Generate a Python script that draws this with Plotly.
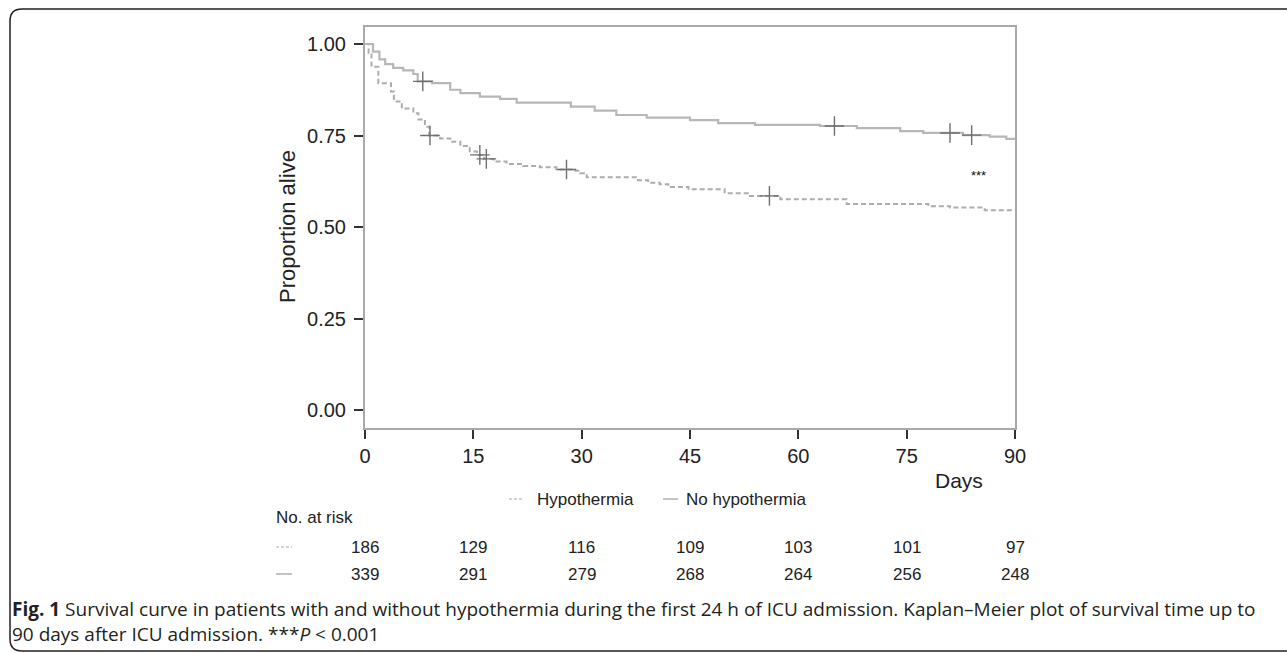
import plotly.graph_objects as go

W, H = 1287, 653

# ---------------- data ----------------
days_no_hypo = [0, 1.1, 2.0, 2.8, 3.9, 5.3, 6.7, 7.3, 9.3, 11.8, 13.2, 15.9, 18.7, 21.0,
                28.5, 31.8, 34.8, 39.0, 45.0, 48.9, 54.0, 63.0, 68.1, 74.1, 77.3, 82.8,
                86.5, 88.8, 90]
surv_no_hypo = [1.0, 0.979, 0.958, 0.945, 0.935, 0.928, 0.918, 0.898, 0.893, 0.875, 0.866,
                0.856, 0.850, 0.840, 0.829, 0.818, 0.806, 0.799, 0.792, 0.784, 0.779, 0.776,
                0.770, 0.762, 0.757, 0.751, 0.747, 0.741, 0.741]
cens_days_no_hypo = [8.0, 65.0, 81.0, 84.0]
cens_surv_no_hypo = [0.898, 0.776, 0.757, 0.751]

days_hypo = [0, 0.5, 0.9, 1.85, 3.6, 4.0, 5.1, 6.7, 7.4, 8.3, 8.9, 10.4, 11.8, 13.2, 14.5,
             15.5, 16.5, 17.8, 19.6, 21.9, 24.2, 26.5, 28.8, 29.8, 30.7, 37.8, 39.2, 40.8,
             42.0, 44.8, 49.8, 53.3, 57.5, 66.7, 78.0, 81.0, 85.8, 90]
surv_hypo = [1.0, 0.975, 0.938, 0.893, 0.870, 0.843, 0.824, 0.811, 0.794, 0.774, 0.750,
             0.742, 0.733, 0.721, 0.706, 0.697, 0.686, 0.679, 0.672, 0.667, 0.663, 0.657,
             0.654, 0.647, 0.636, 0.628, 0.621, 0.617, 0.609, 0.603, 0.592, 0.585, 0.576,
             0.563, 0.557, 0.553, 0.546, 0.546]
cens_days_hypo = [9.0, 15.9, 16.8, 27.9, 56.0]
cens_surv_hypo = [0.750, 0.697, 0.686, 0.657, 0.585]

risk_times = [0, 15, 30, 45, 60, 75, 90]
risk_hypo = [186, 129, 116, 109, 103, 101, 97]
risk_no_hypo = [339, 291, 279, 268, 264, 256, 248]

x_ticks = [0, 15, 30, 45, 60, 75, 90]
y_ticks = [0.0, 0.25, 0.50, 0.75, 1.00]
y_tick_text = ["0.00", "0.25", "0.50", "0.75", "1.00"]

series_names = ["Hypothermia", "No hypothermia"]
caption_line1 = ("<b>Fig. 1</b> Survival curve in patients with and without hypothermia during "
                 "the first 24 h of ICU admission. Kaplan–Meier plot of survival time up to")
caption_line2 = "90 days after ICU admission. ***<i>P</i> &lt; 0.001"

# ---------------- helpers ----------------
def px(x):
    return x / W

def py(y):
    return 1 - y / H

CURVE_SOLID = "#b7b7b7"
CURVE_DASH = "#adadad"
CENSOR = "#6f6f6f"
AXIS = "#a9a9a9"
TXT = "#222222"
FONT = "Liberation Sans, Arial, sans-serif"

# vertical positions (px) of the elements below the plot
Y_DAYS = 480
Y_LEGEND = 499
Y_RISK_TITLE = 517
Y_ROW1 = 547
Y_ROW2 = 574
Y_CAP1 = 609
Y_CAP2 = 634

fig = go.Figure()

fig.add_trace(go.Scatter(
    x=days_hypo, y=surv_hypo, mode="lines", name=series_names[0],
    line=dict(shape="hv", color=CURVE_DASH, width=2, dash="5px,3px"),
    showlegend=False, hoverinfo="skip"))
fig.add_trace(go.Scatter(
    x=days_no_hypo, y=surv_no_hypo, mode="lines", name=series_names[1],
    line=dict(shape="hv", color=CURVE_SOLID, width=2.2),
    showlegend=False, hoverinfo="skip"))
fig.add_trace(go.Scatter(
    x=cens_days_hypo, y=cens_surv_hypo, mode="markers", name="censored (hypothermia)",
    marker=dict(symbol="cross-thin", size=14, line=dict(color=CENSOR, width=1.4)),
    showlegend=False, hoverinfo="skip"))
fig.add_trace(go.Scatter(
    x=cens_days_no_hypo, y=cens_surv_no_hypo, mode="markers", name="censored (no hypothermia)",
    marker=dict(symbol="cross-thin", size=14, line=dict(color=CENSOR, width=1.4)),
    showlegend=False, hoverinfo="skip"))

# plot box: x 365..1015 px, y 27..428 px ; y=1 at 44 px, y=0 at 410 px
y_per_px = 1 / 366.0
y_lo = -(428 - 410) * y_per_px
y_hi = 1 + (44 - 27) * y_per_px

fig.update_layout(
    width=W, height=H,
    margin=dict(l=0, r=0, t=0, b=0, pad=0, autoexpand=False),
    paper_bgcolor="white", plot_bgcolor="white",
    font=dict(family=FONT, color=TXT),
    xaxis=dict(domain=[px(365), px(1015)], range=[0, 90], tickvals=x_ticks,
               ticks="outside", ticklen=9, tickwidth=2, tickcolor="#333333",
               showline=True, linecolor=AXIS, linewidth=2, mirror=True,
               showgrid=False, zeroline=False, automargin=False,
               tickfont=dict(size=20, family=FONT, color=TXT)),
    yaxis=dict(domain=[py(428), py(27)], range=[y_lo, y_hi], tickvals=y_ticks,
               ticktext=y_tick_text,
               ticks="outside", ticklen=9, tickwidth=2, tickcolor="#333333",
               showline=True, linecolor=AXIS, linewidth=2, mirror=True,
               showgrid=False, zeroline=False, ticklabelstandoff=4, automargin=False,
               tickfont=dict(size=20, family=FONT, color=TXT)),
)

def note(text, x, y, size, xanchor="center", xref="paper", yref="paper", family=FONT,
         color=TXT, angle=0):
    return dict(text=text, x=x, y=y, xref=xref, yref=yref, xanchor=xanchor,
                yanchor="middle", showarrow=False, textangle=angle,
                font=dict(size=size, family=family, color=color))

ann = []
ann.append(note("Proportion alive", px(287), py(227), 22, angle=-90))
ann.append(note("Days", px(959), py(Y_DAYS), 21))
ann.append(note("***", 85, 0.64, 13, xref="x", yref="y", color="#111111"))
# legend
ann.append(note(series_names[0], px(535), py(Y_LEGEND), 17, xanchor="left"))
ann.append(note(series_names[1], px(684), py(Y_LEGEND), 17, xanchor="left"))
# risk table
ann.append(note("No. at risk", px(274), py(Y_RISK_TITLE), 17, xanchor="left"))
for t, n in zip(risk_times, risk_hypo):
    ann.append(note(str(n), t, py(Y_ROW1), 17, xref="x"))
for t, n in zip(risk_times, risk_no_hypo):
    ann.append(note(str(n), t, py(Y_ROW2), 17, xref="x"))
# caption
CAP_FONT = "Open Sans, Noto Sans, sans-serif"
ann.append(note(caption_line1, px(10), py(Y_CAP1), 19, xanchor="left", family=CAP_FONT,
                color="#231f20"))
ann.append(note(caption_line2, px(10), py(Y_CAP2), 19, xanchor="left", family=CAP_FONT,
                color="#231f20"))
fig.update_layout(annotations=ann)

shapes = []
# legend keys
shapes.append(dict(type="line", xref="paper", yref="paper", x0=px(509), x1=px(524),
                   y0=py(Y_LEGEND), y1=py(Y_LEGEND),
                   line=dict(color="#c4c4c4", width=1.5, dash="3px,2px")))
shapes.append(dict(type="line", xref="paper", yref="paper", x0=px(663), x1=px(678),
                   y0=py(Y_LEGEND), y1=py(Y_LEGEND), line=dict(color="#c4c4c4", width=2)))
# risk row keys
shapes.append(dict(type="line", xref="paper", yref="paper", x0=px(276), x1=px(292),
                   y0=py(Y_ROW1), y1=py(Y_ROW1),
                   line=dict(color="#c4c4c4", width=1.5, dash="3px,2px")))
shapes.append(dict(type="line", xref="paper", yref="paper", x0=px(276), x1=px(292),
                   y0=py(Y_ROW2), y1=py(Y_ROW2), line=dict(color="#c4c4c4", width=2)))
# figure frame (rounded corner on the left)
r = 12
path = (f"M {px(1290)},{py(9)} L {px(10 + r)},{py(9)} "
        f"Q {px(10)},{py(9)} {px(10)},{py(9 + r)} "
        f"L {px(10)},{py(651 - r)} Q {px(10)},{py(651)} {px(10 + r)},{py(651)} "
        f"L {px(1290)},{py(651)}")
shapes.append(dict(type="path", xref="paper", yref="paper", path=path,
                   line=dict(color="#231f20", width=1.5)))
fig.update_layout(shapes=shapes)

fig.write_html("out.html")
